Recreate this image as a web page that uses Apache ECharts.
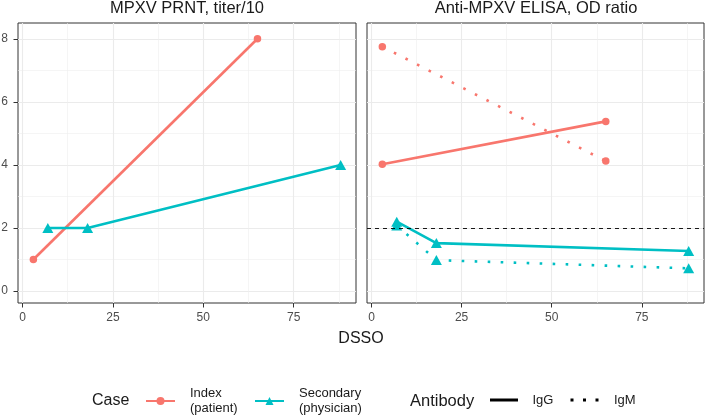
<!DOCTYPE html>
<html>
<head>
<meta charset="utf-8">
<script src="https://cdn.jsdelivr.net/npm/echarts@6/dist/echarts.min.js"></script>
<style>
  html, body { margin: 0; padding: 0; background: #fff; }
  #chart { width: 706px; height: 415px; }
</style>
</head>
<body>
<div id="chart"></div>
<script>
// panel titles and axis ticks
const panelTitles = ['MPXV PRNT, titer/10', 'Anti-MPXV ELISA, OD ratio'];
const xTicks = [0, 25, 50, 75];
const xMinor = [12.5, 37.5, 62.5, 87.5];
const yTicks = [0, 2, 4, 6, 8];
const yMinor = [1, 3, 5, 7];

// [DSSO, value]
const prntIndex = [[3, 1], [65, 8]];
const prntSecondary = [[7, 2], [18, 2], [88, 4]];
const elisaIndexIgG = [[3, 4.02], [65, 5.38]];
const elisaIndexIgM = [[3, 7.75], [65, 4.12]];
const elisaSecondaryIgG = [[7, 2.2], [18, 1.52], [88, 1.27]];
const elisaSecondaryIgM = [[7, 2.08], [18, 0.98], [88, 0.72]];
const cutoff = 2;

const caseLabels = { Index: 'Index\n(patient)', Secondary: 'Secondary\n(physician)' };

const chart = echarts.init(document.getElementById('chart'));

const red = '#F8766D';
const teal = '#00BFC4';
const FONT = 'Liberation Sans';
const X_MIN = -1.25, X_MAX = 92.25;
const Y_MIN = -0.38, Y_MAX = 8.5;

function mainX(gi) {
  return {
    type: 'value', gridIndex: gi, min: X_MIN, max: X_MAX, position: 'bottom',
    axisLine: { show: false, onZero: false },
    axisTick: { show: true, length: 4.5, customValues: xTicks, lineStyle: { color: '#333', width: 1 } },
    axisLabel: { customValues: xTicks, color: '#4D4D4D', fontSize: 12, margin: 9, fontFamily: FONT },
    splitLine: { show: true, lineStyle: { color: '#EBEBEB', width: 1.1 } }
  };
}
function minorX(gi) {
  return {
    type: 'value', gridIndex: gi, min: X_MIN, max: X_MAX, position: 'top',
    axisLine: { show: false, onZero: false },
    axisTick: { show: false, customValues: xMinor },
    axisLabel: { show: false, customValues: xMinor },
    splitLine: { show: true, lineStyle: { color: '#EEEEEE', width: 0.6 } }
  };
}
function mainY(gi, labels) {
  return {
    type: 'value', gridIndex: gi, min: Y_MIN, max: Y_MAX, position: 'left',
    axisLine: { show: false, onZero: false },
    axisTick: { show: labels, length: 4.5, customValues: yTicks, lineStyle: { color: '#333', width: 1 } },
    axisLabel: { show: labels, customValues: yTicks, color: '#4D4D4D', fontSize: 12, margin: 10, fontFamily: FONT },
    splitLine: { show: true, lineStyle: { color: '#EBEBEB', width: 1.1 } }
  };
}
function minorY(gi) {
  return {
    type: 'value', gridIndex: gi, min: Y_MIN, max: Y_MAX, position: 'right',
    axisLine: { show: false, onZero: false },
    axisTick: { show: false, customValues: yMinor },
    axisLabel: { show: false, customValues: yMinor },
    splitLine: { show: true, lineStyle: { color: '#EEEEEE', width: 0.6 } }
  };
}

function lineSeries(name, data, color, symbol, dotted, xi) {
  return {
    type: 'line', name: name, data: data,
    xAxisIndex: xi, yAxisIndex: xi,
    color: color,
    symbol: symbol,
    symbolSize: symbol === 'triangle' ? [11, 10] : 7.5,
    showSymbol: true,
    lineStyle: dotted ? { width: 2.6, type: [2.6, 10.4], cap: 'butt' } : { width: 2.6 },
    itemStyle: { color: color },
    z: 3
  };
}

function caseLegend(name, left) {
  return {
    data: [name], left: left, top: 386, padding: 0,
    itemWidth: 29, itemHeight: 10,
    formatter: n => caseLabels[n],
    textStyle: { fontSize: 13, lineHeight: 15, color: '#1A1A1A', padding: [0, 0, 0, 10], fontFamily: FONT },
    selectedMode: false
  };
}
function abLegend(name, icon, left, textPad) {
  return {
    data: [{ name: name, icon: icon }], left: left, top: 392.5, padding: 0,
    itemWidth: 29, itemHeight: 3,
    textStyle: { fontSize: 13, lineHeight: 15, color: '#1A1A1A', padding: [0, 0, 0, textPad], fontFamily: FONT },
    selectedMode: false
  };
}

function label(text, x, y, size, align) {
  return {
    type: 'text', x: x, y: y, silent: true,
    style: { text: text, fontSize: size, fill: '#1A1A1A', fontFamily: FONT,
      align: align, verticalAlign: 'middle' }
  };
}

const option = {
  backgroundColor: '#ffffff',
  animation: false,
  grid: [
    { left: 18, top: 23, width: 338, height: 280, show: true, borderColor: '#333', borderWidth: 1, outerBoundsMode: 'none' },
    { left: 367, top: 23, width: 337, height: 280, show: true, borderColor: '#333', borderWidth: 1, outerBoundsMode: 'none' }
  ],
  xAxis: [mainX(0), minorX(0), mainX(1), minorX(1)],
  yAxis: [mainY(0, true), minorY(0), mainY(1, false), minorY(1)],
  legend: [
    caseLegend('Index', 145),
    caseLegend('Secondary', 254),
    abLegend('IgG', 'path://M0,0H28V3H0Z', 490, 9),
    abLegend('IgM', 'path://M0,0H3V3H0ZM12.5,0H15.5V3H12.5ZM25,0H28V3H25Z', 570.5, 10)
  ],
  graphic: [
    label(panelTitles[0], 187, 8, 16.5, 'center'),
    label(panelTitles[1], 536, 8, 16.5, 'center'),
    label('DSSO', 361, 339, 16, 'center'),
    label('Case', 92, 401, 16, 'left'),
    label('Antibody', 410, 401, 16.5, 'left')
  ],
  series: [
    lineSeries('Index', prntIndex, red, 'circle', false, 0),
    lineSeries('Secondary', prntSecondary, teal, 'triangle', false, 0),
    lineSeries('Index', elisaIndexIgG, red, 'circle', false, 2),
    lineSeries('Index', elisaIndexIgM, red, 'circle', true, 2),
    Object.assign(lineSeries('Secondary', elisaSecondaryIgG, teal, 'triangle', false, 2), {
      markLine: {
        silent: true, symbol: ['none', 'none'], label: { show: false },
        lineStyle: { color: '#000', type: [4, 4], width: 0.9 },
        data: [{ yAxis: cutoff }]
      }
    }),
    lineSeries('Secondary', elisaSecondaryIgM, teal, 'triangle', true, 2),
    { type: 'line', name: 'IgG', data: [], color: '#000', xAxisIndex: 2, yAxisIndex: 2 },
    { type: 'line', name: 'IgM', data: [], color: '#000', xAxisIndex: 2, yAxisIndex: 2 }
  ]
};

chart.setOption(option);
</script>
</body>
</html>
